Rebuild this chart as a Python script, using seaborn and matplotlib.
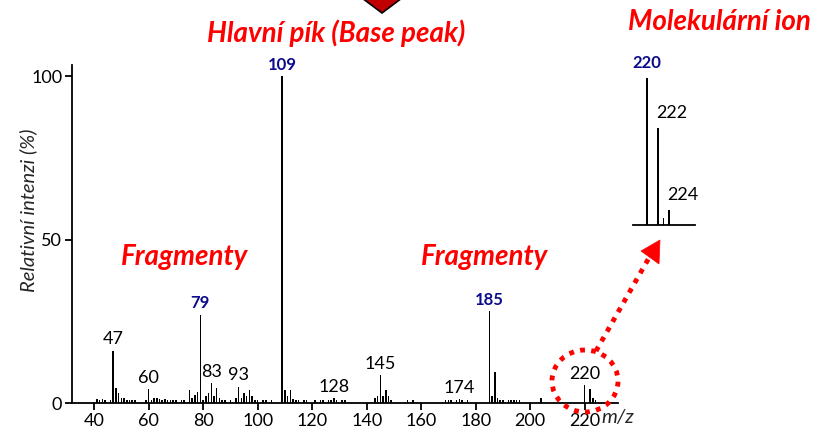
import numpy as np
import pandas as pd
import matplotlib
matplotlib.use("Agg")
import matplotlib.pyplot as plt
import seaborn as sns
from matplotlib.patches import Ellipse, Polygon
from matplotlib.lines import Line2D

# ---- data ----
mz = [41, 42, 43, 44, 46, 47, 48, 49, 50, 51, 52, 53, 54, 55, 59, 60, 61, 62, 63, 64,
      65, 66, 67, 68, 69, 70, 72, 73, 75, 76, 77, 78, 79, 80, 81, 82, 83, 84, 85, 86,
      87, 88, 90, 92, 93, 94, 95, 96, 97, 98, 99, 100, 102, 103, 105, 109, 110, 111, 112, 113,
      114, 115, 117, 118, 121, 123, 124, 126, 127, 128, 129, 131, 132, 143, 144, 145, 146, 147, 148, 149,
      155, 157, 169, 170, 171, 173, 174, 175, 177, 185, 186, 187, 188, 189, 190, 192, 193, 194, 195, 196,
      204, 220, 222, 223, 224]
intensity = [1.2, 1.0, 1.2, 1.0, 1.0, 16.0, 4.5, 3.0, 1.5, 1.5, 1.0, 1.0, 1.0, 1.0, 1.0, 4.2, 1.0, 1.5, 1.5, 1.2,
             1.0, 1.2, 1.0, 1.0, 1.0, 1.0, 1.0, 1.0, 4.0, 1.5, 2.5, 3.5, 27.0, 1.0, 2.0, 3.0, 6.0, 2.0, 4.5, 1.5,
             1.0, 1.0, 1.0, 1.5, 5.0, 1.5, 3.0, 2.0, 4.0, 2.0, 1.0, 1.0, 1.0, 1.0, 1.0, 100.0, 4.0, 2.0, 4.0, 1.2,
             1.0, 1.0, 1.0, 1.0, 1.0, 1.0, 1.0, 1.0, 1.0, 1.5, 1.0, 1.0, 1.0, 1.5, 2.0, 8.5, 2.0, 4.0, 2.0, 1.0,
             1.0, 1.0, 1.0, 1.0, 1.0, 1.0, 1.2, 1.0, 1.0, 28.0, 2.0, 9.5, 1.5, 1.0, 1.0, 1.0, 1.0, 1.0, 1.0, 1.0,
             1.5, 5.5, 4.3, 1.5, 1.0]

inset_mz = [220, 222, 223, 224]
inset_intensity = [100, 66, 5, 10]

blue_labels = [79, 109, 185]
black_labels = [47, 60, 83, 93, 128, 145, 174, 220]
inset_blue_labels = [220]
inset_black_labels = [222, 224]

xticks = [40, 60, 80, 100, 120, 140, 160, 180, 200, 220]
yticks = [0, 50, 100]

RED = "#ff0000"
BLUE = "#0b0b8c"

sns.set_theme(style="ticks")
plt.rcParams['font.family'] = ['Lato', 'DejaVu Sans']

W, H = 817, 434
fig = plt.figure(figsize=(W / 100, H / 100), dpi=100)


def P(x, y):
    return (x / W, 1 - y / H)


# ---- main spectrum ----
ax = fig.add_axes([72 / W, 1 - 403 / H, (618 - 72) / W, (403 - 65) / H])
df = pd.DataFrame({"mz": mz, "intensity": intensity})
sns.histplot(data=df, x="mz", weights="intensity", discrete=True, shrink=0.55,
             color="black", alpha=1, linewidth=0, ax=ax)
ax.set_xlim(31.9, 232.2)
ax.set_ylim(0, 103.4)
ax.set_xticks(xticks)
ax.set_yticks(yticks)
ax.set_xlabel("")
ax.set_ylabel("")
for s in ["top", "right"]:
    ax.spines[s].set_visible(False)
for s in ["left", "bottom"]:
    ax.spines[s].set_linewidth(1.3)
    ax.spines[s].set_color("black")
ax.tick_params(direction="out", length=5, width=1.3, labelsize=13, colors="black", pad=2)

lookup = dict(zip(mz, intensity))
for m in blue_labels:
    ax.text(m, lookup.get(m, 0) + 1.0, str(m), color=BLUE, fontsize=12, fontweight="bold",
            ha="center", va="bottom")
for m in black_labels:
    ax.text(m, lookup.get(m, 0) + 1.0, str(m), color="black", fontsize=13,
            ha="center", va="bottom")

fig.text(*P(28, 210), "Relativní intenzi (%)", rotation=90, fontsize=14.5, style="italic",
         ha="center", va="center")
fig.text(*P(601, 418), "m/z", fontsize=14.5, style="italic", ha="left", va="center")

# ---- inset: molecular ion ----
ax2 = fig.add_axes([633 / W, 1 - 225 / H, (695 - 633) / W, (225 - 78) / H])
df2 = pd.DataFrame({"mz": inset_mz, "intensity": inset_intensity})
sns.histplot(data=df2, x="mz", weights="intensity", discrete=True, shrink=0.3,
             color="black", alpha=1, linewidth=0, ax=ax2)
ax2.set_xlim(217.5, 228.7)
ax2.set_ylim(0, 100)
ax2.set_xticks([])
ax2.set_yticks([])
ax2.set_xlabel("")
ax2.set_ylabel("")
for s in ["top", "right", "left"]:
    ax2.spines[s].set_visible(False)
ax2.spines["bottom"].set_linewidth(1.3)
ax2.spines["bottom"].set_color("black")
ax2.patch.set_alpha(0)
ilook = dict(zip(inset_mz, inset_intensity))
for m in inset_blue_labels:
    ax2.text(m, ilook[m] + 5, str(m), color=BLUE, fontsize=12, fontweight="bold",
             ha="center", va="bottom")
for m in inset_black_labels:
    ax2.text(m - 0.3, ilook[m] + 5, str(m), color="black", fontsize=13,
             ha="left", va="bottom")

# ---- red annotations ----
fs_red = 20
fig.text(*P(336, 33), "Hlavní pík (Base peak)", color=RED, fontsize=fs_red, fontweight="bold",
         style="italic", ha="center", va="center")
fig.text(*P(719, 22), "Molekulární ion", color=RED, fontsize=fs_red, fontweight="bold",
         style="italic", ha="center", va="center")
fig.text(*P(185, 257), "Fragmenty", color=RED, fontsize=fs_red, fontweight="bold",
         style="italic", ha="center", va="center")
fig.text(*P(485, 257), "Fragmenty", color=RED, fontsize=fs_red, fontweight="bold",
         style="italic", ha="center", va="center")

tri = Polygon([P(362, -2), P(402, -2), P(382, 13)], closed=True, transform=fig.transFigure,
              facecolor="#c00000", edgecolor="black", linewidth=1.2)
fig.add_artist(tri)

ell = Ellipse(P(585, 381), 66 / W, 62 / H, transform=fig.transFigure, fill=False,
              edgecolor=RED, linewidth=3.5, linestyle=(0, (1.0, 1.3)))
fig.add_artist(ell)

x0, y0 = P(596, 351)
x1, y1 = P(650, 256)
line = Line2D([x0, x1], [y0, y1], transform=fig.transFigure, color=RED,
              linewidth=3.5, linestyle=(0, (1.0, 1.3)))
fig.add_artist(line)
head = Polygon([P(660, 240), P(641, 251), P(659, 264)], closed=True,
               transform=fig.transFigure, facecolor=RED, edgecolor=RED, linewidth=0.5)
fig.add_artist(head)

fig.savefig("out.png", dpi=100)
